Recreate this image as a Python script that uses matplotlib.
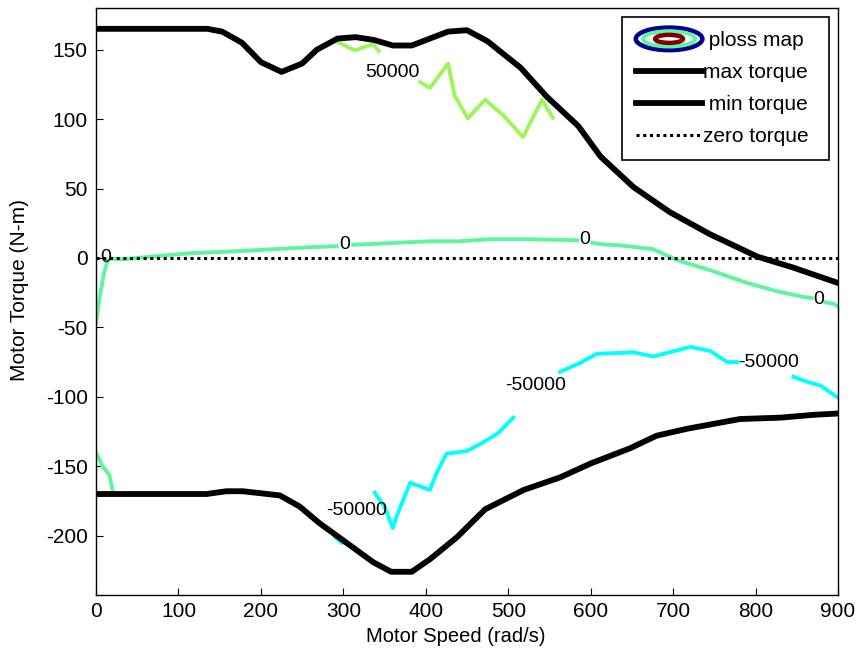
import matplotlib
matplotlib.use("Agg")
import matplotlib.pyplot as plt
from matplotlib.patches import Ellipse
from matplotlib.legend_handler import HandlerBase
from matplotlib.lines import Line2D

plt.rcParams['font.family'] = ['Liberation Sans', 'DejaVu Sans']
plt.rcParams['axes.unicode_minus'] = False

# ---------------- data ----------------
max_speed = [0, 135, 153, 177, 200, 225, 250, 268, 293, 315, 337, 360, 383, 405, 427, 450,
             475, 515, 547, 585, 612, 652, 696, 745, 802, 846, 900]
max_torque = [165, 165, 163, 155, 141, 134, 140, 150, 158, 159, 157, 153, 153, 158, 163, 164,
              156, 137, 116, 95, 73, 51, 33, 17, 1, -7, -18]

min_speed = [0, 134, 158, 178, 223, 247, 271, 299, 336, 358, 383, 405, 438, 472, 519, 563,
             600, 648, 680, 717, 781, 830, 870, 900]
min_torque = [-170, -170, -168, -168, -171, -179, -191, -203, -219, -226, -226, -217, -201, -181,
              -167, -158, -148, -137, -128, -123, -116, -115, -113, -112]

zero_speed = [0, 900]
zero_torque = [0, 0]

# ploss contour level 0 (segments between inline labels)
c0_a_x = [14, 10, 4, 0.6, 0]
c0_a_y = [-2, -10, -30, -44.6, -47]
c0_b_x = [18, 32, 73, 114, 154, 195, 235, 292]
c0_b_y = [-0.5, -1, 1.3, 3.4, 4.4, 5.6, 7, 8.5]
c0_c_x = [312, 350, 405, 440, 478, 520, 563, 584]
c0_c_y = [9.5, 10.5, 12, 12, 13.5, 13.5, 13, 12.8]
c0_d_x = [602, 611.5, 636, 652, 676, 705, 745, 790, 826, 858, 868]
c0_d_y = [11, 10, 9, 8, 6.3, -1.6, -8.8, -18, -24, -28, -29]
c0_e_x = [885, 895, 900]
c0_e_y = [-32, -33, -35]
c0_f_x = [0, 8, 16, 20]
c0_f_y = [-140, -150, -156, -167]

# ploss contour level 50000
c5_a_x = [293, 314, 336, 343]
c5_a_y = [155.5, 149.5, 154, 149]
c5_b_x = [393, 405, 427, 435, 451, 472, 494, 518, 541, 554]
c5_b_y = [126.7, 122.4, 140, 117, 100.5, 114, 102.7, 87, 114, 101]

# ploss contour level -50000
cm_a_x = [338, 350, 360, 364.6, 381, 405, 413, 425, 450, 466, 488, 506]
cm_a_y = [-169, -179, -194.5, -186, -162, -167, -155, -141, -139, -134, -126, -115]
cm_b_x = [563, 587, 607.5, 652, 676, 721, 745, 765.5, 778]
cm_b_y = [-82, -75.7, -69, -68, -71, -64, -67, -75, -75]
cm_c_x = [846, 856.5, 879, 901]
cm_c_y = [-85.5, -88, -92, -101]
cm_d_x = [290, 298]
cm_d_y = [-201, -205]

# contour labels
lab_text = ['50000', '0', '0', '0', '0', '-50000', '-50000', '-50000']
lab_x = [360, 11.5, 302, 593, 876, 533, 816, 316]
lab_y = [133.6, 0, 10, 13, -30, -91.5, -75, -182]

x_ticks = [0, 100, 200, 300, 400, 500, 600, 700, 800, 900]
y_ticks = [-200, -150, -100, -50, 0, 50, 100, 150]

col_p5 = '#9ef55a'
col_0 = '#5ef59c'
col_m5 = '#00ffff'

FS = 14
FS_TICK = 15

# ---------------- figure ----------------
fig = plt.figure(figsize=(8.58, 6.55), dpi=100)
ax = fig.add_axes([96 / 858, 1 - 594.7 / 655, (838 - 96) / 858, (594.7 - 8) / 655])

clw = 2.8
for xs, ys in [(c0_a_x, c0_a_y), (c0_b_x, c0_b_y), (c0_c_x, c0_c_y), (c0_d_x, c0_d_y),
               (c0_e_x, c0_e_y), (c0_f_x, c0_f_y)]:
    ax.plot(xs, ys, color=col_0, lw=clw, zorder=2)
for xs, ys in [(c5_a_x, c5_a_y), (c5_b_x, c5_b_y)]:
    ax.plot(xs, ys, color=col_p5, lw=clw, zorder=2)
for xs, ys in [(cm_a_x, cm_a_y), (cm_b_x, cm_b_y), (cm_c_x, cm_c_y), (cm_d_x, cm_d_y)]:
    ax.plot(xs, ys, color=col_m5, lw=clw, zorder=2)

ax.plot(max_speed, max_torque, color='black', lw=4.2, zorder=3)
ax.plot(min_speed, min_torque, color='black', lw=4.2, zorder=3)
ax.plot(zero_speed, zero_torque, color='black', lw=2.2, linestyle=(0, (1, 1.2)), zorder=3)

for t, x, y in zip(lab_text, lab_x, lab_y):
    ax.text(x, y, t, fontsize=FS, ha='center', va='center', zorder=4)

ax.set_xlim(0, 900)
ax.set_ylim(-242.5, 180)
ax.set_xticks(x_ticks)
ax.set_yticks(y_ticks)
ax.tick_params(direction='in', length=5, width=0.8, labelsize=FS_TICK, top=False, right=False)
ax.tick_params(axis='x', pad=5)
ax.tick_params(axis='y', pad=6)
for s in ax.spines.values():
    s.set_linewidth(1.0)
ax.set_xlabel('Motor Speed (rad/s)', fontsize=14.5)
ax.set_ylabel('Motor Torque (N-m)', fontsize=15)
ax.xaxis.set_label_coords(0.485, -0.055)
ax.yaxis.set_label_coords(-0.09, 0.52)


class ContourHandle:
    pass


class ContourHandler(HandlerBase):
    def create_artists(self, legend, orig_handle, xdescent, ydescent, width, height, fontsize, trans):
        cx = width / 2 - xdescent
        cy = height / 2 - ydescent
        arts = []
        for w, h, c, lw in [(width, height * 1.55, '#000090', 3.2),
                            (width * 0.78, height * 1.05, col_0, 2.8),
                            (width * 0.42, height * 0.55, '#800000', 3.2)]:
            e = Ellipse((cx, cy), w, h, facecolor='none', edgecolor=c, lw=lw, transform=trans)
            arts.append(e)
        return arts


handles = [ContourHandle(),
           Line2D([], [], color='black', lw=4.2),
           Line2D([], [], color='black', lw=4.2),
           Line2D([], [], color='black', lw=2.2, linestyle=(0, (1, 1.2)))]
labels = [' ploss map ', 'max torque ', ' min torque ', 'zero torque ']
leg = fig.legend(handles, labels, loc='upper right', bbox_to_anchor=(829 / 858, 1 - 17 / 655),
                 handler_map={ContourHandle: ContourHandler()}, fontsize=15,
                 frameon=True, fancybox=False, edgecolor='black', framealpha=1,
                 handlelength=3.2, handletextpad=0.05, labelspacing=0.62,
                 borderpad=0.68, borderaxespad=0)
leg.get_frame().set_linewidth(1.2)

fig.savefig('out.png', dpi=100)
